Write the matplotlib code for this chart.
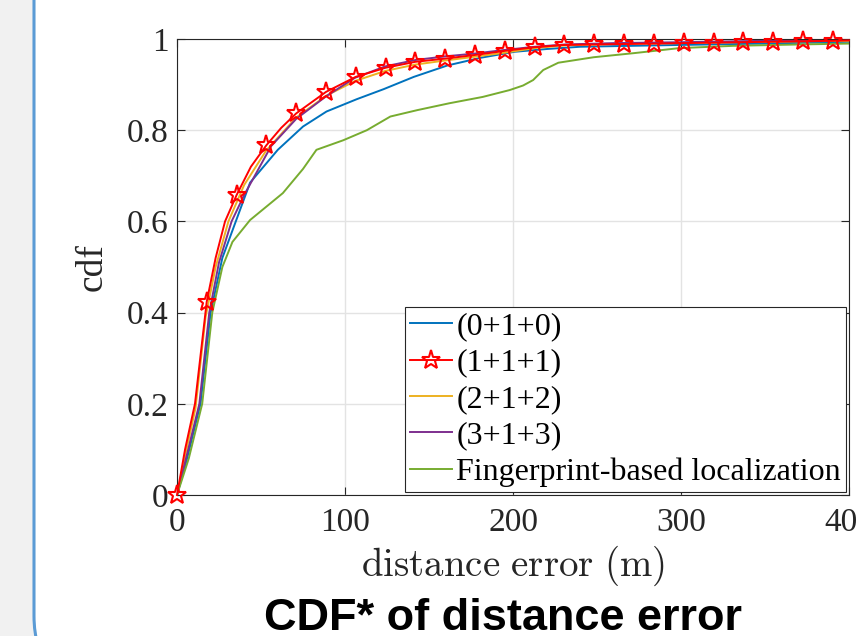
import numpy as np
import matplotlib
matplotlib.use("Agg")
import matplotlib.pyplot as plt
from matplotlib.patches import FancyBboxPatch, Rectangle

plt.rcParams['mathtext.fontset'] = 'cm'

# data (distance error in m, cdf)
x_010 = [0, 6, 14, 20, 27, 35, 43.5, 60, 75, 89, 107, 123, 141, 161, 181, 201, 220, 240, 270, 300, 350, 400]
y_010 = [0, 0.08, 0.2, 0.4, 0.52, 0.6, 0.685, 0.757, 0.808, 0.841, 0.868, 0.89, 0.917, 0.942, 0.959, 0.972,
         0.978, 0.983, 0.985, 0.987, 0.99, 0.994]

x_111 = [0, 4.8, 10.7, 17.7, 23, 28.6, 35.5, 44, 53.2, 62, 71, 88.7, 106.4, 124.2, 141.9, 159.7, 177.4, 195.2,
         212.9, 230.6, 248.4, 266.1, 283.9, 301.6, 319.4, 337.1, 354.8, 372.6, 390.3, 400]
y_111 = [0, 0.10, 0.20, 0.424, 0.52, 0.60, 0.658, 0.72, 0.767, 0.805, 0.837, 0.884, 0.917, 0.937, 0.950, 0.957,
         0.965, 0.974, 0.982, 0.987, 0.988, 0.989, 0.990, 0.991, 0.992, 0.993, 0.994, 0.995, 0.996, 0.997]
marks_111 = [0, 3, 6, 8] + list(range(10, 29))

x_212 = [0, 5, 11, 17, 23, 30.6, 40, 53, 71, 89, 106, 124, 142, 160, 177, 195, 213, 231, 260, 300, 350, 400]
y_212 = [0, 0.09, 0.19, 0.39, 0.50, 0.60, 0.68, 0.755, 0.828, 0.876, 0.908, 0.93, 0.944, 0.953, 0.961, 0.970,
         0.980, 0.986, 0.989, 0.991, 0.994, 0.996]

x_313 = [0, 6, 13.3, 19.2, 25, 32.5, 40, 56, 71, 89, 106, 124, 142, 160, 177, 195, 213, 231, 260, 300, 350, 400]
y_313 = [0, 0.09, 0.2, 0.4, 0.51, 0.6, 0.658, 0.765, 0.825, 0.875, 0.915, 0.94, 0.954, 0.962, 0.968, 0.976,
         0.983, 0.988, 0.991, 0.993, 0.996, 0.998]

x_fp = [0, 7, 15, 21, 27, 33, 43.5, 63, 75, 83, 99, 113, 127, 143, 162, 182, 198, 206, 212, 218, 227, 234,
        248, 272, 299, 331, 370, 400]
y_fp = [0, 0.08, 0.2, 0.4, 0.5, 0.555, 0.603, 0.662, 0.715, 0.757, 0.778, 0.80, 0.83, 0.844, 0.859, 0.873,
        0.888, 0.898, 0.91, 0.932, 0.948, 0.952, 0.96, 0.969, 0.98, 0.985, 0.988, 0.99]

labels = ['(0+1+0)', '(1+1+1)', '(2+1+2)', '(3+1+3)', 'Fingerprint-based localization']

W, H = 857, 636
fig = plt.figure(figsize=(W / 100, H / 100), dpi=100)

# background: gray page with a rounded white card
bg = fig.add_axes([0, 0, 1, 1], zorder=-10)
bg.set_xlim(0, W)
bg.set_ylim(H, 0)
bg.axis('off')
bg.add_patch(Rectangle((0, 0), W, H, facecolor='#f1f1f1', edgecolor='none'))
bg.add_patch(FancyBboxPatch((34, -120), 950, 804, boxstyle='round,pad=0,rounding_size=68',
                            facecolor='white', edgecolor='#5b9bd5', linewidth=2.2))

ax = fig.add_axes([177 / W, 1 - 495 / H, (849 - 177) / W, (495 - 39) / H])
serif = 'Liberation Serif'

ax.plot(x_010, y_010, color='#0072BD', lw=1.4, label=labels[0])
ax.plot(x_111, y_111, color='red', lw=1.4, marker='*', ms=14, mfc='none', mec='red', mew=1.5,
        markevery=marks_111, label=labels[1], zorder=5, clip_on=False)
ax.plot(x_212, y_212, color='#EDB120', lw=1.4, label=labels[2])
ax.plot(x_313, y_313, color='#7E2F8E', lw=1.4, label=labels[3])
ax.plot(x_fp, y_fp, color='#77AC30', lw=1.4, label=labels[4])

ax.set_xlim(0, 400)
ax.set_ylim(0, 1)
ax.set_xticks([0, 100, 200, 300, 400])
ax.set_yticks([0, 0.2, 0.4, 0.6, 0.8, 1])
ax.set_yticklabels(['0', '0.2', '0.4', '0.6', '0.8', '1'])
ax.tick_params(direction='in', top=True, right=True, length=6, width=0.8, color='#262626',
               labelsize=24)
ax.tick_params(axis='x', pad=9)
ax.tick_params(axis='y', pad=6)
for lab in ax.get_xticklabels() + ax.get_yticklabels():
    lab.set_fontfamily(serif)
    lab.set_color('#262626')
for s in ax.spines.values():
    s.set_color('#262626')
    s.set_linewidth(0.8)
ax.grid(True, color='#e3e3e3', lw=1)
ax.set_axisbelow(True)

ax.set_ylabel('cdf', fontsize=27, family=serif, color='#262626', labelpad=12)
ax.set_xlabel(r'$\mathrm{distance\ error\ (m)}$', fontsize=28, color='#262626', labelpad=4)

leg = ax.legend(loc='lower right', bbox_to_anchor=(1.0, 0.0), borderaxespad=0.1,
                prop={'family': serif, 'size': 23}, frameon=True, fancybox=False,
                edgecolor='#262626', framealpha=1, handlelength=1.3, handletextpad=0.15,
                labelspacing=0.22, borderpad=0.15)
leg.get_frame().set_linewidth(0.8)
for t in leg.get_texts():
    t.set_color('black')

fig.text(503 / W, 1 - 630 / H, 'CDF* of distance error', ha='center', va='baseline',
         family='Liberation Sans', fontweight='bold', fontsize=32.5, color='black')

fig.savefig('out.png', dpi=100)
